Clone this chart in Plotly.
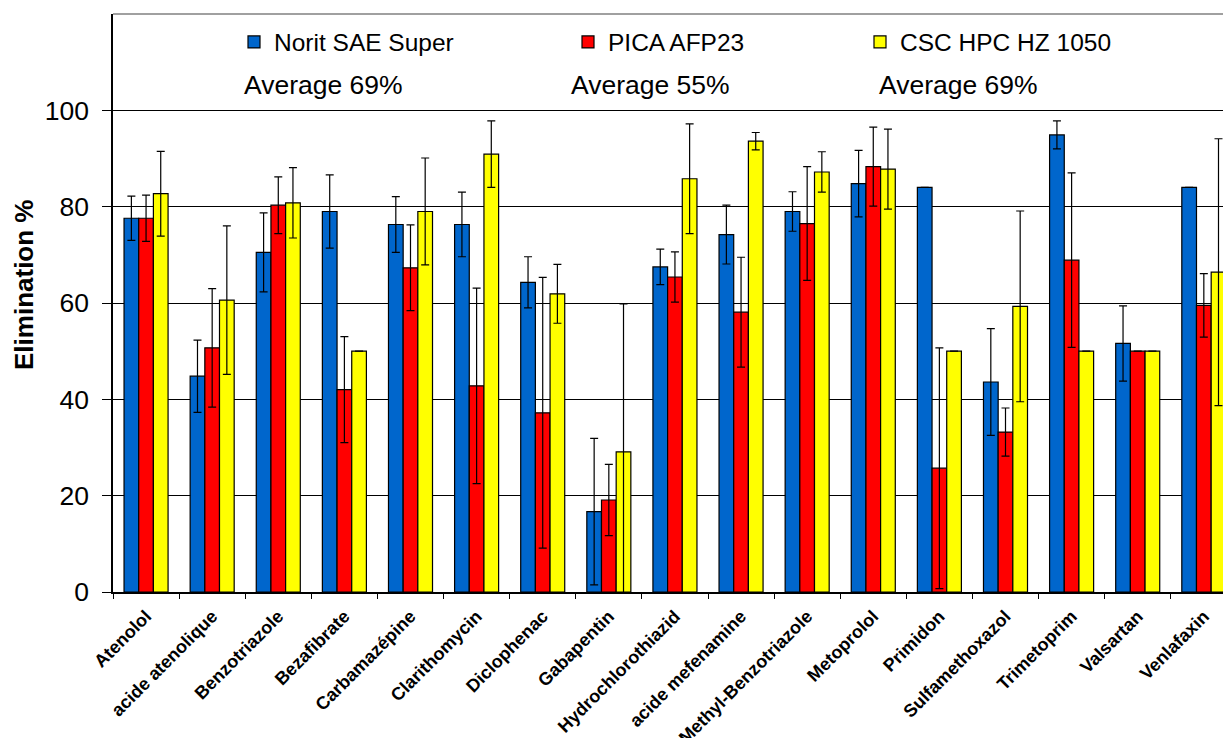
import plotly.graph_objects as go

# Compounds along the x axis
compounds = [
    "Atenolol", "acide atenolique", "Benzotriazole", "Bezafibrate",
    "Carbamazépine", "Clarithomycin", "Diclophenac", "Gabapentin",
    "Hydrochlorothiazid", "acide mefenamine", "Methyl-Benzotriazole",
    "Metoprolol", "Primidon", "Sulfamethoxazol", "Trimetoprim",
    "Valsartan", "Venlafaxin",
]

# Elimination (%) per activated carbon, with standard deviations
norit = [77.6, 44.8, 70.5, 79.0, 76.3, 76.3, 64.3, 16.7, 67.5, 74.2,
         79.0, 84.8, 84.0, 43.6, 94.9, 51.6, 84.0]
norit_sd = [4.6, 7.5, 8.2, 7.6, 5.8, 6.7, 5.3, 15.2, 3.7, 6.1,
            4.1, 6.9, None, 11.1, 2.9, 7.8, None]

pica = [77.6, 50.7, 80.3, 42.0, 67.3, 42.8, 37.2, 19.1, 65.4, 58.1,
        76.5, 88.3, 25.7, 33.2, 68.9, 50.0, 59.5]
pica_sd = [4.8, 12.3, 5.9, 11.0, 8.9, 20.3, 28.1, 7.4, 5.2, 11.4,
           11.8, 8.2, 25.0, 5.0, 18.1, None, 6.6]

csc = [82.7, 60.6, 80.8, 50.0, 79.0, 90.9, 61.9, 29.1, 85.8, 93.6,
       87.2, 87.8, 50.0, 59.3, 50.0, 50.0, 66.4]
csc_sd = [8.8, 15.4, 7.3, None, 11.1, 6.9, 6.1, 30.7, 11.4, 1.8,
          4.2, 8.3, None, 19.8, None, None, 27.7]

series_names = ["Norit SAE Super", "PICA AFP23", "CSC HPC HZ 1050"]
averages = ["Average 69%", "Average 55%", "Average 69%"]
y_ticks = [0, 20, 40, 60, 80, 100]

FONT = "Arial, 'Liberation Sans', sans-serif"
W, H = 1223, 738
ML, MR, MT, MB = 113, 0, 14, 146
PW = W - ML - MR
PH = H - MT - MB


def px_x(px):
    return (px - ML) / PW


def px_y(py):
    return 1 - (py - MT) / PH


colors = ["#0066CC", "#FF0000", "#FFFF00"]
values = [norit, pica, csc]
errors = [norit_sd, pica_sd, csc_sd]
legend_ids = ["legend", "legend2", "legend3"]

fig = go.Figure()
for name, vals, errs, col, lg in zip(series_names, values, errors, colors, legend_ids):
    fig.add_trace(go.Bar(
        name=name,
        x=compounds,
        y=vals,
        marker=dict(color=col, line=dict(color="black", width=1.2)),
        error_y=dict(type="data", array=[e if e is not None else 0 for e in errs],
                     symmetric=True, color="black", thickness=1.2, width=4),
        legend=lg,
    ))

# One legend per series, laid out across the top band of the plot
legend_x_px = [234, 568, 860]
legend_common = dict(
    orientation="h", xanchor="left", yanchor="middle",
    y=px_y(42), font=dict(family=FONT, size=24.5, color="black"),
    bgcolor="rgba(0,0,0,0)", borderwidth=0,
)
fig.update_layout(
    legend=dict(x=px_x(legend_x_px[0]), **legend_common),
    legend2=dict(x=px_x(legend_x_px[1]), **legend_common),
    legend3=dict(x=px_x(legend_x_px[2]), **legend_common),
)

# Average elimination per carbon
avg_x_px = [242, 569, 877]
for txt, xp in zip(averages, avg_x_px):
    fig.add_annotation(
        text=txt, x=px_x(xp), y=px_y(85), xref="paper", yref="paper",
        xanchor="left", yanchor="middle", showarrow=False,
        font=dict(family=FONT, size=26.5, color="black"),
    )

# y-axis title
fig.add_annotation(
    text="<b>Elimination %</b>", x=px_x(24), y=px_y(285),
    xref="paper", yref="paper", xanchor="center", yanchor="middle",
    textangle=-90, showarrow=False,
    font=dict(family=FONT, size=26, color="black"),
)

# Top border of the plot area
fig.add_shape(type="line", xref="paper", yref="paper", x0=0, x1=1, y0=1, y1=1,
              line=dict(color="#808080", width=1.5))

fig.update_layout(
    width=W, height=H,
    margin=dict(l=ML, r=MR, t=MT, b=MB, autoexpand=False),
    paper_bgcolor="white", plot_bgcolor="white",
    barmode="group", bargap=0.334, bargroupgap=0,
    showlegend=True,
    font=dict(family=FONT, color="black"),
    xaxis=dict(
        range=[-0.5, 16.29], tickangle=-45, tickson="boundaries",
        ticks="outside", ticklen=5, tickcolor="black", tickwidth=1.2,
        showline=True, linecolor="black", linewidth=1.5,
        showgrid=False, automargin=False, ticklabelstandoff=5,
        tickfont=dict(family=FONT, size=18, color="black", weight="bold"),
    ),
    yaxis=dict(
        range=[0, 120], tickvals=y_ticks, ticktext=[str(v) for v in y_ticks],
        ticks="outside", ticklen=9, tickcolor="black", tickwidth=1.2,
        showline=True, linecolor="black", linewidth=1.5,
        showgrid=True, gridcolor="black", gridwidth=1,
        zeroline=False, automargin=False, ticklabelstandoff=8,
        tickfont=dict(family=FONT, size=26.5, color="black"),
    ),
)

fig.write_html("out.html")
